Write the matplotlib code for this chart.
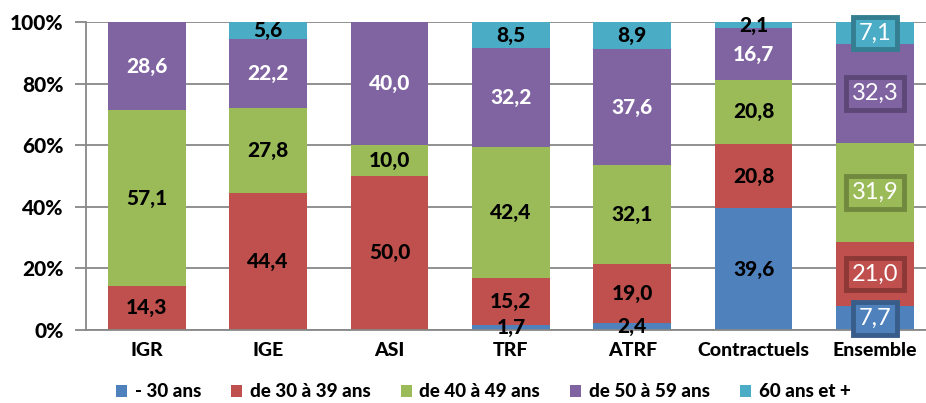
import matplotlib.pyplot as plt
import numpy as np

categories = ['IGR', 'IGE', 'ASI', 'TRF', 'ATRF', 'Contractuels', 'Ensemble']
series_names = ['- 30 ans', 'de 30 à 39 ans', 'de 40 à 49 ans', 'de 50 à 59 ans', '60 ans et +']
moins_30 = [0, 0, 0, 1.7, 2.4, 39.6, 7.7]
de_30_39 = [14.3, 44.4, 50.0, 15.2, 19.0, 20.8, 21.0]
de_40_49 = [57.1, 27.8, 10.0, 42.4, 32.1, 20.8, 31.9]
de_50_59 = [28.6, 22.2, 40.0, 32.2, 37.6, 16.7, 32.3]
plus_60 = [0, 5.6, 0, 8.5, 8.9, 2.1, 7.1]

series = [moins_30, de_30_39, de_40_49, de_50_59, plus_60]
colors = ['#4F81BD', '#C0504D', '#9BBB59', '#8064A2', '#4BACC6']
dark = ['#385D8A', '#8C3836', '#71893F', '#5C4776', '#357D91']

plt.rcParams['font.family'] = ['Lato', 'DejaVu Sans']
W = 'black'

fig = plt.figure(figsize=(9.26, 4.03), dpi=100)
ax = fig.add_axes([86 / 926, 1 - 330 / 403, 1 - 86 / 926, (330 - 22) / 403])

x = np.arange(len(categories))
bottom = np.zeros(len(categories))
for i, vals in enumerate(series):
    vals = np.array(vals)
    ax.bar(x, vals, 0.64, bottom=bottom, color=colors[i], label=series_names[i], zorder=2)
    for j, v in enumerate(vals):
        if v <= 0:
            continue
        yc = bottom[j] + v / 2
        txt = f'{v:.1f}'.replace('.', ',')
        if categories[j] == 'Ensemble':
            ax.text(x[j], yc, txt, ha='center', va='center', color='white', fontsize=17,
                    zorder=4, bbox=dict(boxstyle='square,pad=0.25', fc=colors[i], ec=dark[i], lw=3.5))
        else:
            c = 'white' if i == 3 else 'black'
            ax.text(x[j], yc, txt, ha='center', va='center', color=c, fontsize=15,
                    fontweight=W, zorder=3)
    bottom += vals

ax.set_xlim(-0.5, 6.42)
ax.set_ylim(0, 100)
ax.set_yticks(range(0, 101, 20))
ax.set_yticklabels([f'{v}%' for v in range(0, 101, 20)], fontsize=15, fontweight=W)
ax.set_xticks(x)
ax.set_xticklabels(categories, fontsize=14, fontweight=W)
ax.tick_params(axis='x', length=0, pad=9)
ax.tick_params(axis='y', length=8, color='#888888', width=1.3, pad=8)
ax.grid(axis='y', color='#888888', lw=1.3, zorder=0)
for s in ['top', 'right']:
    ax.spines[s].set_visible(False)
for s in ['left', 'bottom']:
    ax.spines[s].set_color('#888888')
    ax.spines[s].set_linewidth(1.3)

leg = fig.legend(loc='lower center', bbox_to_anchor=(0.522, -0.035), ncol=5, frameon=False,
                 handlelength=0.6, handleheight=0.6, handletextpad=0.4, columnspacing=1.6,
                 prop={'weight': W, 'size': 13.5})

fig.savefig('out.png', dpi=100)
